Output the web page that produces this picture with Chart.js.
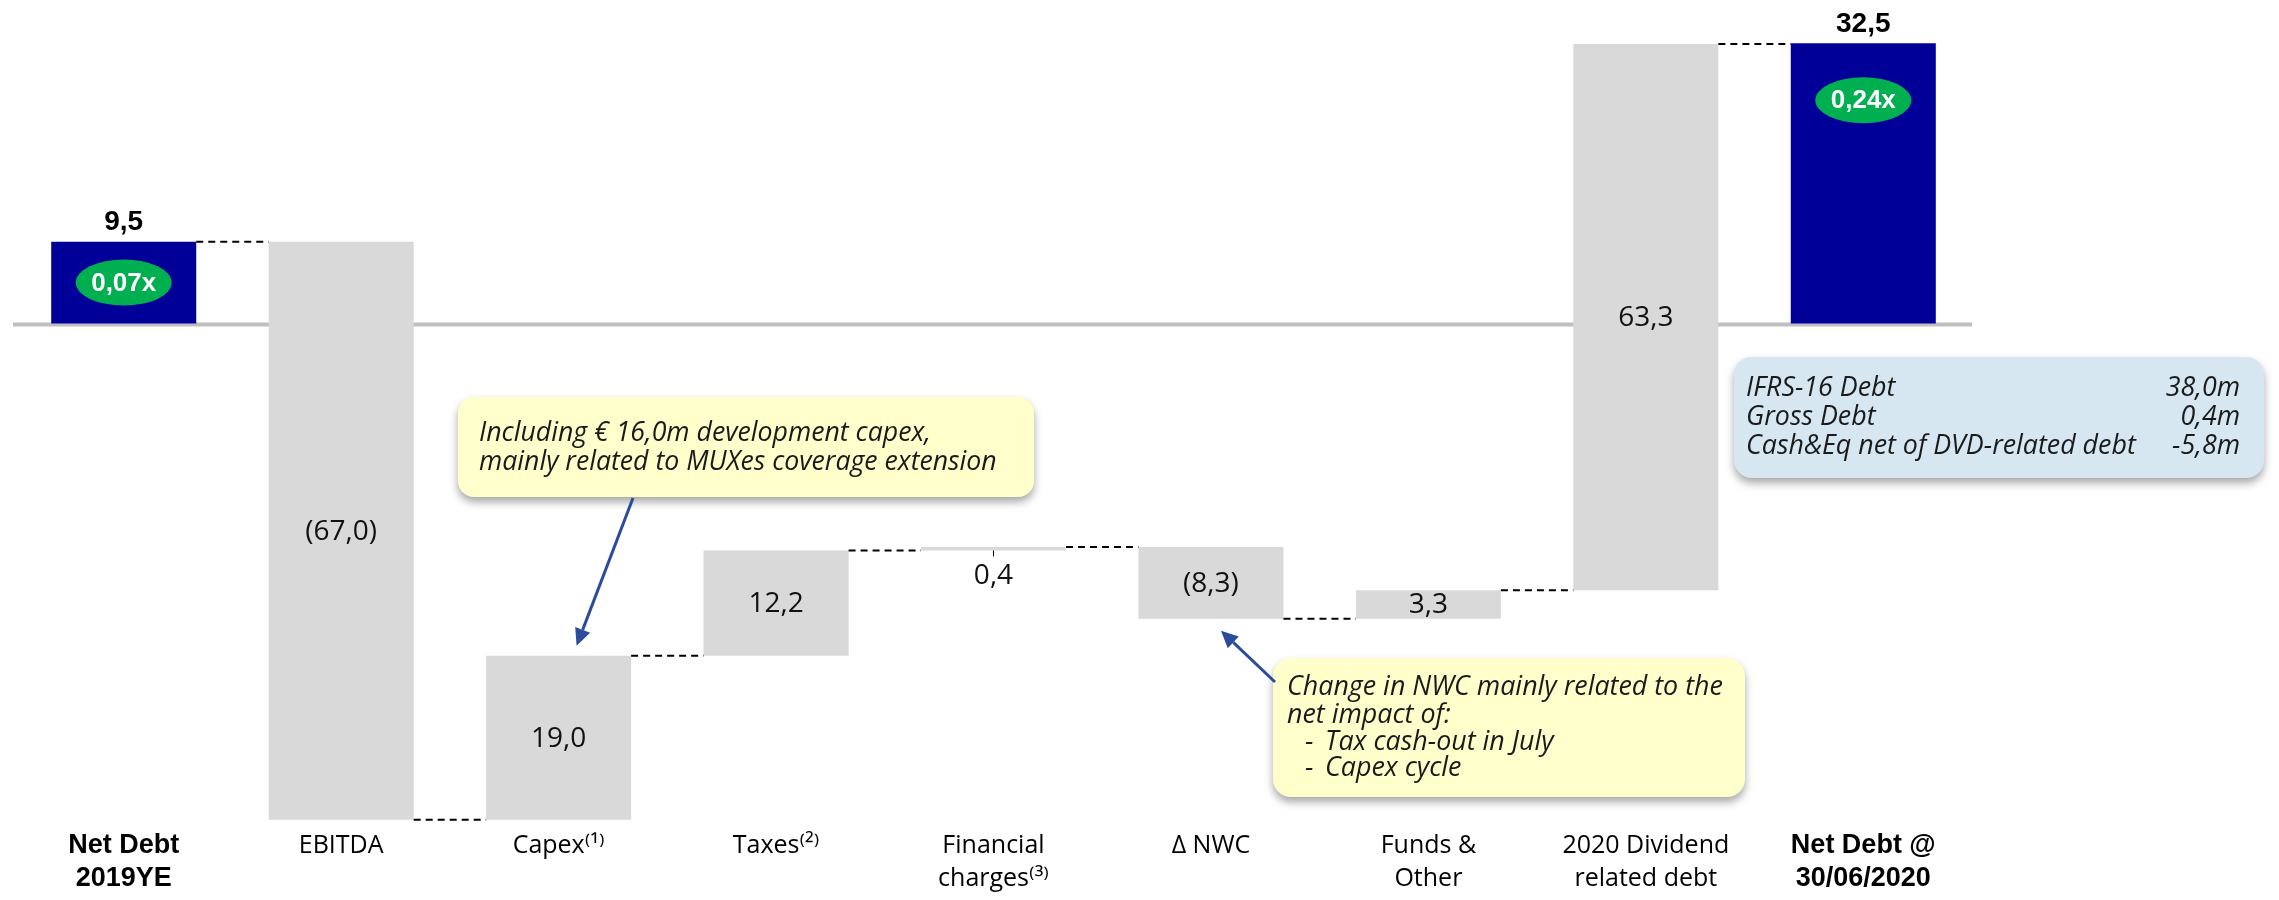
<!DOCTYPE html>
<html>
<head>
<meta charset="utf-8">
<script src="https://cdn.jsdelivr.net/npm/chart.js@4/dist/chart.umd.min.js"></script>
<style>
  html, body { margin: 0; padding: 0; background: #fff; }
</style>
</head>
<body>
<canvas id="bridge" width="2279" height="900"></canvas>
<script>
// Net debt bridge, 2019YE -> 30/06/2020 (EUR m)
const categories = [
  ['Net Debt', '2019YE'], ['EBITDA'], ['Capex⁽¹⁾'], ['Taxes⁽²⁾'],
  ['Financial', 'charges⁽³⁾'], ['Δ NWC'], ['Funds &', 'Other'],
  ['2020 Dividend', 'related debt'], ['Net Debt @', '30/06/2020']
];
const movements = [9.5, -67.0, 19.0, 12.2, 0.4, -8.3, 3.3, 63.3, 32.5];
const isTotal = [true, false, false, false, false, false, false, false, true];
const leverage = ['0,07x', null, null, null, null, null, null, null, '0,24x'];
const yMin = -58, yMax = 36;

const fmt = v => Math.abs(v).toFixed(1).replace('.', ',');
const valueLabels = movements.map(v => v < 0 ? '(' + fmt(v) + ')' : fmt(v));

// floating ranges for the waterfall
let running = 0;
const ranges = movements.map((v, i) => {
  if (isTotal[i]) { running = v; return [0, v]; }
  const start = running;
  running += v;
  return [start, running];
});

const SANS = '"Open Sans", "DejaVu Sans", sans-serif';
const ARIAL = '"Liberation Sans", Arial, sans-serif';

// font size that makes a line of text as wide as it is in the slide
function sizeFor(ctx, text, width) {
  ctx.font = 'italic 100px ' + SANS;
  return 100 * width / ctx.measureText(text).width;
}

function roundBox(ctx, x, y, w, h, r, fill) {
  ctx.save();
  ctx.shadowColor = 'rgba(0,0,0,0.35)';
  ctx.shadowBlur = 8;
  ctx.shadowOffsetY = 5;
  ctx.beginPath();
  ctx.moveTo(x + r, y);
  ctx.arcTo(x + w, y, x + w, y + h, r);
  ctx.arcTo(x + w, y + h, x, y + h, r);
  ctx.arcTo(x, y + h, x, y, r);
  ctx.arcTo(x, y, x + w, y, r);
  ctx.closePath();
  ctx.fillStyle = fill;
  ctx.fill();
  ctx.restore();
}

function arrow(ctx, x1, y1, x2, y2) {
  const ang = Math.atan2(y2 - y1, x2 - x1);
  const len = 17, half = 8;
  const bx = x2 - len * Math.cos(ang), by = y2 - len * Math.sin(ang);
  ctx.save();
  ctx.strokeStyle = '#2B4C9B';
  ctx.fillStyle = '#2B4C9B';
  ctx.lineWidth = 3;
  ctx.beginPath();
  ctx.moveTo(x1, y1);
  ctx.lineTo(bx, by);
  ctx.stroke();
  ctx.beginPath();
  ctx.moveTo(x2, y2);
  ctx.lineTo(bx + half * Math.sin(ang), by - half * Math.cos(ang));
  ctx.lineTo(bx - half * Math.sin(ang), by + half * Math.cos(ang));
  ctx.closePath();
  ctx.fill();
  ctx.restore();
}

const extras = {
  id: 'extras',
  beforeDatasetsDraw(chart) {
    const { ctx, chartArea, scales: { y } } = chart;
    const y0 = y.getPixelForValue(0);
    ctx.save();
    ctx.strokeStyle = '#BFBFBF';
    ctx.lineWidth = 4;
    ctx.beginPath();
    ctx.moveTo(chartArea.left - 2, y0 + 1);
    ctx.lineTo(chartArea.right, y0 + 1);
    ctx.stroke();
    ctx.restore();
  },
  afterDatasetsDraw(chart) {
    const { ctx, scales: { x, y } } = chart;
    const bars = chart.getDatasetMeta(0).data;

    // dashed connectors
    ctx.save();
    ctx.strokeStyle = '#000';
    ctx.lineWidth = 2;
    ctx.setLineDash([7, 5]);
    for (let i = 0; i < bars.length - 1; i++) {
      const lvl = y.getPixelForValue(ranges[i][1]);
      const a = bars[i], b = bars[i + 1];
      ctx.beginPath();
      ctx.moveTo(a.x + a.width / 2, lvl);
      ctx.lineTo(b.x - b.width / 2, lvl);
      ctx.stroke();
    }
    ctx.restore();

    // value labels
    ctx.save();
    ctx.textAlign = 'center';
    ctx.textBaseline = 'middle';
    bars.forEach((bar, i) => {
      const top = y.getPixelForValue(Math.max(...ranges[i]));
      const bot = y.getPixelForValue(Math.min(...ranges[i]));
      if (isTotal[i]) {
        ctx.fillStyle = '#000';
        ctx.font = 'bold 28px ' + ARIAL;
        ctx.fillText(valueLabels[i], bar.x, top - 19);
        const cy = Math.min((top + bot) / 2, top + 57);
        ctx.fillStyle = '#00B050';
        ctx.beginPath();
        ctx.ellipse(bar.x, cy, 48, 23, 0, 0, Math.PI * 2);
        ctx.fill();
        ctx.fillStyle = '#fff';
        ctx.font = 'bold 26px ' + ARIAL;
        ctx.fillText(leverage[i], bar.x, cy + 1);
      } else if (Math.abs(movements[i]) < 1) {
        ctx.strokeStyle = '#000';
        ctx.lineWidth = 1;
        ctx.beginPath();
        ctx.moveTo(bar.x, bot);
        ctx.lineTo(bar.x, bot + 6);
        ctx.stroke();
        ctx.fillStyle = '#111';
        ctx.font = '28px ' + SANS;
        ctx.fillText(valueLabels[i], bar.x, bot + 26);
      } else {
        ctx.fillStyle = '#111';
        ctx.font = '28px ' + SANS;
        ctx.fillText(valueLabels[i], bar.x, (top + bot) / 2 + 1);
      }
    });
    ctx.restore();

    // callouts
    const note1 = ['Including € 16,0m development capex,', 'mainly related to MUXes coverage extension'];
    const note2 = ['Change in NWC mainly related to the', 'net impact of:'];
    const bullets = ['Tax cash-out in July', 'Capex cycle'];
    const rows = [['IFRS-16 Debt', '38,0m'], ['Gross Debt', '0,4m'], ['Cash&Eq net of DVD-related debt', '-5,8m']];
    const s1 = sizeFor(ctx, note1[1], 518);
    const s2 = sizeFor(ctx, note2[0], 436);
    const s3 = sizeFor(ctx, rows[2][0], 390);

    ctx.save();
    roundBox(ctx, 458, 397, 576, 100, 16, '#FFFFCC');
    roundBox(ctx, 1273, 658, 472, 139, 18, '#FFFFCC');
    roundBox(ctx, 1734, 357, 530, 121, 18, '#D6E7F2');
    ctx.fillStyle = '#1a1a1a';
    ctx.textBaseline = 'middle';
    ctx.textAlign = 'left';
    ctx.font = 'italic ' + s1 + 'px ' + SANS;
    ctx.fillText(note1[0], 479, 433);
    ctx.fillText(note1[1], 479, 462);
    ctx.font = 'italic ' + s2 + 'px ' + SANS;
    ctx.fillText(note2[0], 1287, 687);
    ctx.fillText(note2[1], 1287, 715);
    bullets.forEach((b, k) => {
      ctx.fillText('-', 1305, 742 + k * 26);
      ctx.fillText(b, 1325, 742 + k * 26);
    });
    ctx.font = 'italic ' + s3 + 'px ' + SANS;
    rows.forEach((r, k) => {
      ctx.textAlign = 'left';
      ctx.fillText(r[0], 1746, 388 + k * 29);
      ctx.textAlign = 'right';
      ctx.fillText(r[1], 2240, 388 + k * 29);
    });
    ctx.restore();

    const capTop = y.getPixelForValue(Math.max(...ranges[2]));
    arrow(ctx, 633, 498, x.getPixelForValue(2) + 18, capTop - 10);
    const nwcBot = y.getPixelForValue(Math.min(...ranges[5]));
    arrow(ctx, 1275, 682, x.getPixelForValue(5) + 10, nwcBot + 12);
  }
};

new Chart(document.getElementById('bridge'), {
  type: 'bar',
  data: {
    labels: categories,
    datasets: [{
      data: ranges,
      backgroundColor: isTotal.map(t => t ? '#000099' : '#D9D9D9'),
      borderWidth: 0,
      borderSkipped: false,
      barPercentage: 0.667,
      categoryPercentage: 1
    }]
  },
  options: {
    responsive: false,
    animation: false,
    layout: { padding: { left: 15, right: 307, top: 13, bottom: 0 } },
    plugins: { legend: { display: false }, tooltip: { enabled: false } },
    scales: {
      x: {
        grid: { display: false, drawTicks: false },
        border: { display: false },
        ticks: {
          padding: 5,
          color: '#000',
          maxRotation: 0,
          autoSkip: false,
          font: c => (c.index === 0 || c.index === 8)
            ? { family: ARIAL, size: 27, weight: 'bold', lineHeight: '33px' }
            : { family: SANS, size: 25, lineHeight: '33px' }
        }
      },
      y: { display: false, min: yMin, max: yMax }
    }
  },
  plugins: [extras]
});
</script>
</body>
</html>
